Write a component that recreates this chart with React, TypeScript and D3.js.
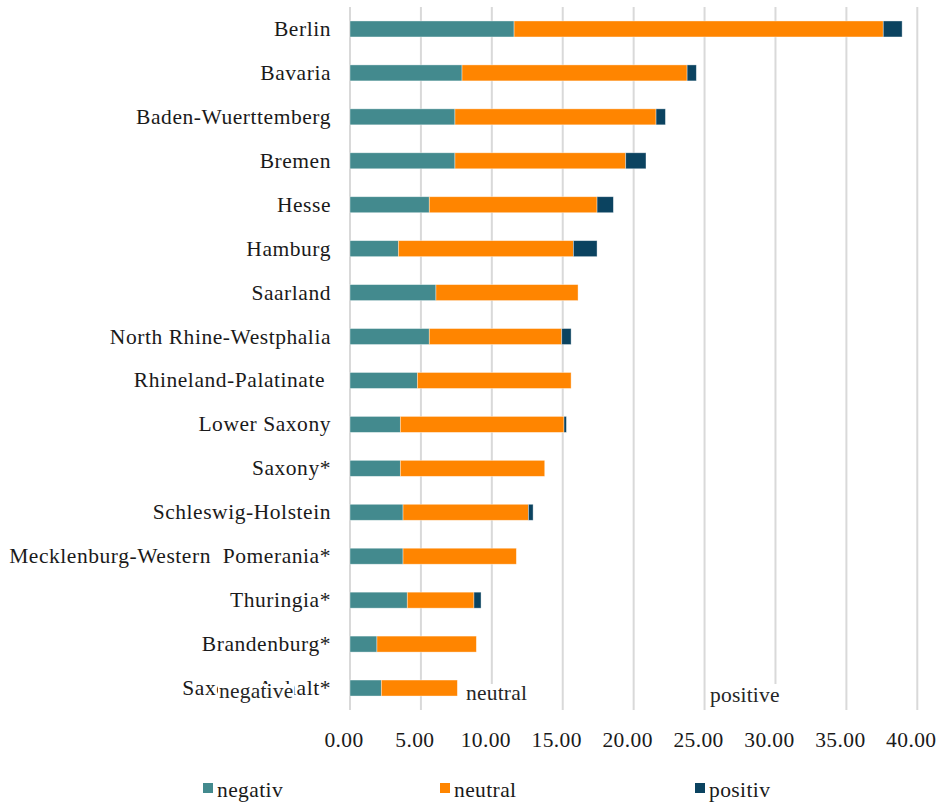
import React from "react";
import * as d3 from "d3";

const categories = [
  "Berlin",
  "Bavaria",
  "Baden-Wuerttemberg",
  "Bremen",
  "Hesse",
  "Hamburg",
  "Saarland",
  "North Rhine-Westphalia",
  "Rhineland-Palatinate ",
  "Lower Saxony",
  "Saxony*",
  "Schleswig-Holstein",
  "Mecklenburg-Western  Pomerania*",
  "Thuringia*",
  "Brandenburg*",
  "Saxony-Anhalt*",
];
const negativ = [11.57, 7.9, 7.4, 7.4, 5.59, 3.41, 6.06, 5.59, 4.75, 3.55, 3.55, 3.74, 3.74, 4.04, 1.9, 2.21];
const neutral = [26.03, 15.87, 14.18, 12.04, 11.83, 12.34, 10.02, 9.34, 10.84, 11.54, 10.18, 8.84, 7.99, 4.7, 7.01, 5.36];
const positiv = [1.33, 0.65, 0.66, 1.43, 1.15, 1.67, 0, 0.66, 0, 0.17, 0, 0.33, 0, 0.5, 0, 0];
const seriesKeys = ["negativ", "neutral", "positiv"];
const seriesColors = ["#438A8E", "#FF8500", "#0B4360"];
const xTicks = [0, 5, 10, 15, 20, 25, 30, 35, 40];
const overlayLabels = ["negative", "neutral", "positive"];

const W = 946;
const H = 805;
const FONT = "'Liberation Serif', 'Times New Roman', serif";
const FS = 21.5;
const LS = 0.55;
const OLS = 0.2;

function measure(text: string, size: number, ls: number) {
  const c = document.createElement("canvas");
  const ctx = c.getContext("2d");
  if (!ctx) return text.length * size * 0.45;
  ctx.font = `${size}px ${FONT}`;
  return ctx.measureText(text).width + text.length * ls;
}

export default function App() {
  const x = d3.scaleLinear().domain([0, 40]).range([350, 917.3]);
  const y = d3
    .scaleBand<string>()
    .domain(categories)
    .range([7, 710])
    .paddingInner(0.636)
    .paddingOuter(0.318);

  const table = categories.map((c, i) => ({
    cat: c,
    negativ: negativ[i],
    neutral: neutral[i],
    positiv: positiv[i],
  }));
  const stacked = d3.stack<any>().keys(seriesKeys)(table);

  const overlayX = [219, 466, 710];
  const overlayY = [698, 700, 702];
  const legendX = [203, 440, 695];

  return (
    <svg
      width={W}
      height={H}
      style={{ position: "absolute", left: 0, top: 0, background: "#fff" }}
      fontFamily={FONT}
    >
      <rect x={0} y={0} width={W} height={H} fill="#fff" />
      {xTicks.map((t) => (
        <line
          key={"g" + t}
          x1={x(t)}
          x2={x(t)}
          y1={7}
          y2={710}
          stroke="#D9D9D9"
          strokeWidth={2}
        />
      ))}
      {stacked.map((s, si) => (
        <g key={s.key} fill={seriesColors[si]}>
          {s.map((d, i) =>
            d[1] - d[0] > 0 ? (
              <rect
                key={i}
                x={x(d[0])}
                y={y(categories[i])!}
                width={x(d[1]) - x(d[0])}
                height={y.bandwidth()}
                stroke="#fff"
                strokeOpacity={0.5}
                strokeWidth={0.75}
              />
            ) : null
          )}
        </g>
      ))}
      {categories.map((c) => (
        <text
          key={"l" + c}
          x={331}
          y={y(c)! + y.bandwidth() / 2 + 7}
          textAnchor="end"
          fontSize={FS}
          fill="#1a1a1a"
          letterSpacing={LS}
          style={{ whiteSpace: "pre" }}
        >
          {c}
        </text>
      ))}
      {overlayLabels.map((t, i) => {
        const w = measure(t, FS, OLS);
        return (
          <g key={"o" + t}>
            <rect
              x={overlayX[i] - 1}
              y={684}
              width={w + 2}
              height={26}
              fill="#fff"
            />
            <text
              x={overlayX[i]}
              y={overlayY[i]}
              fontSize={FS}
              fill="#262626"
              letterSpacing={OLS}
            >
              {t}
            </text>
          </g>
        );
      })}
      {xTicks.map((t) => (
        <text
          key={"t" + t}
          x={x(t) - 6}
          y={747}
          textAnchor="middle"
          fontSize={FS}
          fill="#1a1a1a"
          letterSpacing={0.4}
        >
          {d3.format(".2f")(t)}
        </text>
      ))}
      {seriesKeys.map((k, i) => (
        <g key={"lg" + k}>
          <rect x={legendX[i]} y={783} width={10} height={10} fill={seriesColors[i]} />
          <text
            x={legendX[i] + 14}
            y={797}
            fontSize={FS}
            fill="#1a1a1a"
            letterSpacing={0.4}
          >
            {k}
          </text>
        </g>
      ))}
    </svg>
  );
}
